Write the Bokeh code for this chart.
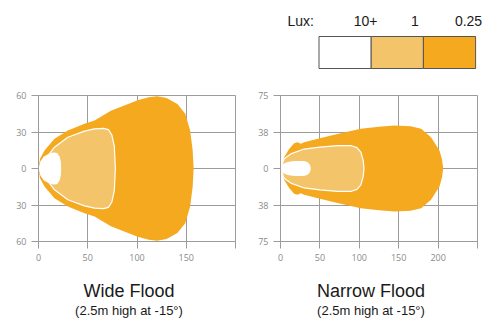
from bokeh.plotting import figure
from bokeh.models import Range1d, FixedTicker
from bokeh.layouts import column, row
from bokeh.embed import file_html
from bokeh.resources import INLINE
from bokeh.core.properties import value
import numpy as np

# ---------------- data ----------------
lux_levels = ["10+", "1", "0.25"]
lux_colors = ["#FFFFFF", "#F4C46A", "#F5A91F"]

# Wide flood (upper halves, mirrored about y=0)
wide_outer_x = [0, 1.5, 6.1, 16.2, 29.8, 46.7, 56.9, 73.5, 100.7, 112, 120.5, 130, 141, 149, 154, 156.5, 157.5]
wide_outer_y = [0, 8, 14.8, 24.4, 31.2, 36.7, 39.5, 47.5, 56, 58.5, 59.3, 58, 53, 45, 31, 15, 0]
wide_mid_x = [0, 6.1, 16.2, 29.8, 46.7, 56.9, 66, 71, 74.5, 77, 78]
wide_mid_y = [0, 6.6, 17.5, 25.7, 30.7, 32.6, 33, 32, 27.5, 18, 0]
wide_in_x = [0, 2, 5.4, 12, 16.2, 19, 21.6, 22.8, 23]
wide_in_y = [0, 6, 9.8, 12.8, 13.2, 12.8, 9.5, 5, 0]

# Narrow flood
narrow_outer_x = [0, 4.6, 11, 17.3, 21.6, 25.8, 30, 50, 75, 102, 125, 145, 165, 178.5, 191, 201.8, 205, 206.5]
narrow_outer_y = [0, 11.6, 20, 26, 27, 25.4, 27, 31, 36, 40.8, 43, 44.2, 43.5, 40.8, 32, 18.5, 9, 0]
narrow_mid_x = [0, 4.6, 13, 30, 50, 72.5, 90, 97, 102, 105, 106]
narrow_mid_y = [0, 10, 15, 20, 22, 23.6, 23.4, 21.5, 16.8, 8, 0]
narrow_in_x = [0, 3, 8.9, 17.3, 30, 34.5, 37.5, 38.5]
narrow_in_y = [0, 4.5, 6.8, 7.8, 7.8, 6.3, 3.5, 0]

wide_xticks = [0, 50, 100, 150, 200]
wide_xlabels = ["0", "50", "100", "150", ""]
wide_yticks = [-60, -30, 0, 30, 60]
wide_ylabels = ["60", "30", "0", "30", "60"]

narrow_xticks = [0, 50, 100, 150, 200, 250]
narrow_xlabels = ["0", "50", "100", "150", "200", ""]
narrow_yticks = [-75, -37.5, 0, 37.5, 75]
narrow_ylabels = ["75", "38", "0", "38", "75"]

titles = ["Wide Flood", "Narrow Flood"]
subtitles = ["(2.5m high at -15°)", "(2.5m high at -15°)"]

# ---------------- style ----------------
GRID = "#9c9c9c"
TICK_TXT = "#8a8a8a"
FONT = "Liberation Sans"
W = 486
LEG_H, CH_H, TT_H = 80, 190, 48
TOP_B, FRAME_H = 15, 146


def mirror(xs, ys):
    xs = np.asarray(xs, float)
    ys = np.asarray(ys, float)
    return np.concatenate([xs, xs[::-1]]), np.concatenate([ys, -ys[::-1]])


def chart(xticks, xlabels, yticks, ylabels, shapes, bl, br):
    xmax, ymax = xticks[-1], yticks[-1]
    p = figure(width=W // 2, height=CH_H, output_backend="svg", toolbar_location=None,
               x_range=Range1d(0, xmax), y_range=Range1d(-ymax, ymax),
               min_border_left=bl, min_border_right=br, min_border_top=TOP_B,
               min_border_bottom=CH_H - TOP_B - FRAME_H)
    p.background_fill_color = "white"
    p.border_fill_color = "white"
    p.outline_line_color = GRID
    p.outline_line_width = 1
    for ax, ticks, labels in ((p.xaxis[0], xticks, xlabels), (p.yaxis[0], yticks, ylabels)):
        ax.ticker = FixedTicker(ticks=ticks)
        ax.major_label_overrides = {t: l for t, l in zip(ticks, labels)}
        ax.axis_line_color = GRID
        ax.major_tick_line_color = GRID
        ax.major_tick_out = 7
        ax.major_tick_in = 0
        ax.minor_tick_line_color = None
        ax.major_label_text_font = "Open Sans"
        ax.major_label_text_font_size = "9px"
        ax.major_label_text_color = TICK_TXT
        ax.major_label_standoff = 5
    p.xgrid.ticker = FixedTicker(ticks=xticks)
    p.ygrid.ticker = FixedTicker(ticks=yticks)
    for g in (p.xgrid[0], p.ygrid[0]):
        g.grid_line_color = GRID
        g.grid_line_width = 1
    for (xs, ys), col, lc in zip(shapes, lux_colors[::-1], [None, "white", None]):
        mx, my = mirror(xs, ys)
        p.patch(mx, my, fill_color=col, line_color=lc, line_width=1.2)
    return p


left = chart(wide_xticks, wide_xlabels, wide_yticks, wide_ylabels,
             [(wide_outer_x, wide_outer_y), (wide_mid_x, wide_mid_y), (wide_in_x, wide_in_y)],
             38, 8)
right = chart(narrow_xticks, narrow_xlabels, narrow_yticks, narrow_ylabels,
              [(narrow_outer_x, narrow_outer_y), (narrow_mid_x, narrow_mid_y), (narrow_in_x, narrow_in_y)],
              37, 9)

# ---------------- legend ----------------
leg = figure(width=W, height=LEG_H, output_backend="svg", toolbar_location=None,
             x_range=Range1d(0, W), y_range=Range1d(LEG_H, 0),
             x_axis_type=None, y_axis_type=None, min_border=0)
leg.grid.visible = False
leg.outline_line_color = None
cell_left, cell_w = 318.5, 52.2
lefts = [cell_left + cell_w * i for i in range(len(lux_levels))]
rights = [l + cell_w for l in lefts]
leg.quad(left=lefts, right=rights, top=[36] * 3, bottom=[68] * 3,
         fill_color=lux_colors, line_color="#555555", line_width=1)
label_x = [365, 414.5, 468]
leg.text(x=[287], y=[20], text=["Lux:"], text_font=value(FONT), text_font_size="14px",
         text_baseline="middle", text_align="left", text_color="#1a1a1a")
leg.text(x=label_x, y=[20] * 3, text=lux_levels, text_font=value(FONT), text_font_size="14px",
         text_baseline="middle", text_align="center", text_color="#1a1a1a")

# ---------------- titles ----------------
tt = figure(width=W, height=TT_H, output_backend="svg", toolbar_location=None,
            x_range=Range1d(0, W), y_range=Range1d(TT_H, 0),
            x_axis_type=None, y_axis_type=None, min_border=0)
tt.grid.visible = False
tt.outline_line_color = None
title_cx = [128.5, 370.5]
tt.text(x=title_cx, y=[20, 20], text=titles, text_font=value(FONT), text_font_size="18px",
        text_baseline="middle", text_align="center", text_color="#1a1a1a")
tt.text(x=title_cx, y=[40, 40], text=subtitles, text_font=value(FONT), text_font_size="13px",
        text_baseline="middle", text_align="center", text_color="#1a1a1a")

page = column(leg, row(left, right), tt)
open("out.html", "w").write(file_html(page, INLINE))
